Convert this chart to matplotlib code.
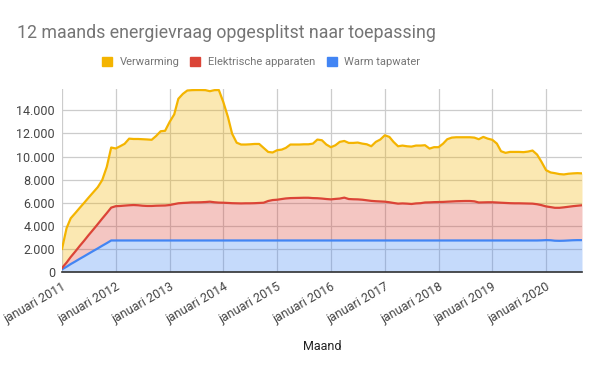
import numpy as np
import pandas as pd
import matplotlib
matplotlib.use("Agg")
from matplotlib import pyplot as plt
from matplotlib.patches import Patch

plt.rcParams['font.family'] = ['Roboto', 'DejaVu Sans']

# monthly values, januari 2011 .. september 2020
maanden = pd.date_range("2011-01-01", periods=117, freq="MS")

warm_tapwater = (
    [230, 455, 685, 910, 1140, 1365, 1590, 1820, 2045, 2275, 2500, 2730]
    + [2730] * 12 * 7
    + [2730] * 11 + [2740]
    + [2760, 2750, 2710, 2700, 2710, 2730, 2750, 2760, 2760]
)

elektrisch = [
    115, 360, 610, 860, 1110, 1355, 1610, 1850, 2105, 2350, 2600, 2845,
    2970, 2990, 3020, 3050, 3070, 3050, 3010, 2990, 2990, 3010, 3020, 3030,
    3070, 3150, 3220, 3250, 3270, 3300, 3300, 3310, 3330, 3360, 3310, 3280,
    3270, 3250, 3230, 3220, 3210, 3220, 3220, 3230, 3250, 3270, 3420, 3500,
    3530, 3590, 3640, 3670, 3680, 3690, 3700, 3700, 3670, 3660, 3630, 3590,
    3560, 3600, 3630, 3710, 3590, 3570, 3560, 3530, 3480, 3430, 3400, 3380,
    3360, 3310, 3250, 3190, 3210, 3190, 3160, 3210, 3230, 3290, 3300, 3320,
    3330, 3340, 3360, 3380, 3400, 3410, 3420, 3420, 3390, 3290, 3300, 3310,
    3310, 3290, 3270, 3250, 3230, 3220, 3220, 3210, 3200, 3190, 3140, 3050,
    2920, 2870, 2850, 2860, 2890, 2920, 2950, 2980, 3020,
]

verwarming = [
    1655, 2980, 3355, 3330, 3300, 3280, 3250, 3230, 3200, 3335, 4000, 5205,
    5000, 5180, 5350, 5770, 5720, 5740, 5760, 5760, 5730, 6040, 6440, 6470,
    7200, 7770, 9050, 9450, 9720, 9720, 9730, 9720, 9690, 9570, 9710, 9750,
    8700, 7440, 6020, 5250, 5100, 5090, 5110, 5130, 5110, 4750, 4250, 4120,
    4290, 4280, 4380, 4640, 4630, 4620, 4630, 4630, 4720, 5080, 5050, 4720,
    4520, 4650, 4910, 4910, 4860, 4880, 4920, 4860, 4850, 4730, 5140, 5360,
    5750, 5660, 5290, 4970, 5010, 4970, 4970, 5010, 4990, 4960, 4660, 4760,
    4750, 5050, 5410, 5530, 5540, 5530, 5520, 5520, 5520, 5480, 5670, 5510,
    5410, 5100, 4460, 4340, 4440, 4450, 4450, 4440, 4500, 4600, 4300, 3750,
    3140, 3000, 3000, 2920, 2850, 2860, 2840, 2820, 2760,
]

reeksen = ["Verwarming", "Elektrische apparaten", "Warm tapwater"]
kleuren = ["#F4B400", "#DB4437", "#4285F4"]

jaren = list(range(2011, 2021))
tick_labels = ["januari %d" % j for j in jaren]
y_ticks = [0, 2000, 4000, 6000, 8000, 10000, 12000, 14000]

fig = plt.figure(figsize=(6, 3.71), dpi=100)
ax = fig.add_axes([62 / 600, 1 - 272 / 371, 520 / 600, (272 - 89) / 371])

# stack from bottom: tapwater, elektrisch, verwarming
stapel = np.vstack([warm_tapwater, elektrisch, verwarming]).astype(float)
stapel_kleuren = [kleuren[2], kleuren[1], kleuren[0]]
niveaus = np.cumsum(stapel, axis=0)
onder = np.vstack([np.zeros(len(maanden)), niveaus[:-1]])
for i in range(3):
    ax.fill_between(maanden, onder[i], niveaus[i], color=stapel_kleuren[i],
                    alpha=0.3, linewidth=0, zorder=2)
for i in range(3):
    ax.plot(maanden, niveaus[i], color=stapel_kleuren[i], linewidth=1.6,
            zorder=3, solid_joinstyle="round")

ax.set_xlim(maanden[0], maanden[-1])
ax.set_ylim(0, 15850)
ax.set_yticks(y_ticks)
ax.set_yticklabels(["{:,}".format(v).replace(",", ".") for v in y_ticks])
ax.set_xticks([pd.Timestamp("%d-01-01" % j) for j in jaren])
ax.set_xticklabels(tick_labels, rotation=30, ha="right", rotation_mode="anchor")

ax.grid(True, color="#cccccc", linewidth=0.9, zorder=1)
ax.set_axisbelow(True)
for s in ["top", "right", "left"]:
    ax.spines[s].set_visible(False)
ax.spines["bottom"].set_color("#333333")
ax.spines["bottom"].set_linewidth(1.2)
ax.spines["bottom"].set_zorder(4)
ax.tick_params(axis="both", length=0, labelsize=9, colors="#444444")
ax.tick_params(axis="x", pad=6)
ax.tick_params(axis="y", pad=5)

ax.set_xlabel("Maand", fontsize=9, color="#222222", labelpad=10)

fig.text(17 / 600, 1 - 33 / 371, "12 maands energievraag opgesplitst naar toepassing",
         fontsize=12.8, color="#757575", va="center", ha="left")

handles = [Patch(facecolor=k, edgecolor=k) for k in kleuren]
fig.legend(handles, reeksen, loc="center", bbox_to_anchor=(261 / 600, 1 - 62 / 371),
           ncol=3, frameon=False, fontsize=8, handlelength=0.9, handleheight=0.9,
           columnspacing=1.0, handletextpad=0.7, labelcolor="#757575")

fig.savefig("out.png", dpi=100)
